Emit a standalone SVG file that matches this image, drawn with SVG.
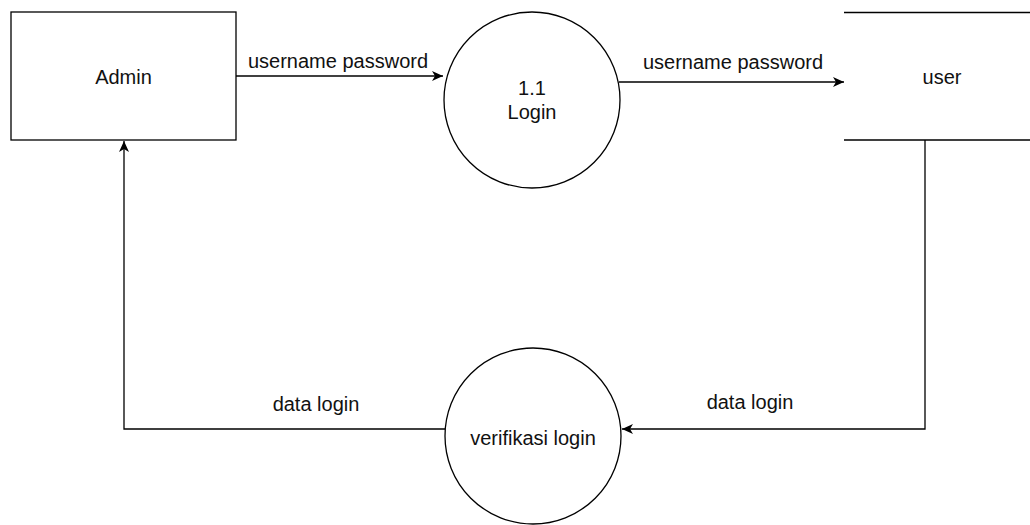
<svg xmlns="http://www.w3.org/2000/svg" width="1030" height="525" viewBox="0 0 1030 525">
<defs>
<marker id="arr" markerWidth="12" markerHeight="10" refX="11" refY="5" orient="auto" markerUnits="userSpaceOnUse">
<path d="M0,0 L11,5 L0,10 L3,5 Z" fill="#000"/>
</marker>
<style>
.shape{fill:#fff;stroke:#000;stroke-width:1.3}
.line{fill:none;stroke:#000;stroke-width:1.3}
.edge{fill:none;stroke:#000;stroke-width:1.3;marker-end:url(#arr)}
text{font-family:"Liberation Sans",Arial,sans-serif;font-size:20px;fill:#111;text-anchor:middle;dominant-baseline:central}
</style>
</defs>
<rect width="1030" height="525" fill="#fff"/>
<g id="connectors">
<path class="edge" d="M236,76 L443,76"/>
<path class="edge" d="M619,82 L844,82"/>
<path class="edge" d="M925,140 L925,429 L622,429"/>
<path class="edge" d="M445,429 L124,429 L124,141"/>
<text x="338" y="61">username password</text>
<text x="733" y="62">username password</text>
<text x="316" y="404">data login</text>
<text x="750" y="402">data login</text>
</g>
<g id="admin">
<rect class="shape" x="11" y="12" width="225" height="128"/>
<text x="123.5" y="77">Admin</text>
</g>
<g id="login">
<circle class="shape" cx="532" cy="100" r="88"/>
<text x="532" y="88">1.1</text>
<text x="532" y="112">Login</text>
</g>
<g id="user">
<path class="line" d="M844,12.5 L1030,12.5 M844,140 L1030,140"/>
<text x="942" y="77">user</text>
</g>
<g id="verifikasi">
<circle class="shape" cx="533" cy="436" r="88"/>
<text x="533" y="438">verifikasi login</text>
</g>
</svg>
